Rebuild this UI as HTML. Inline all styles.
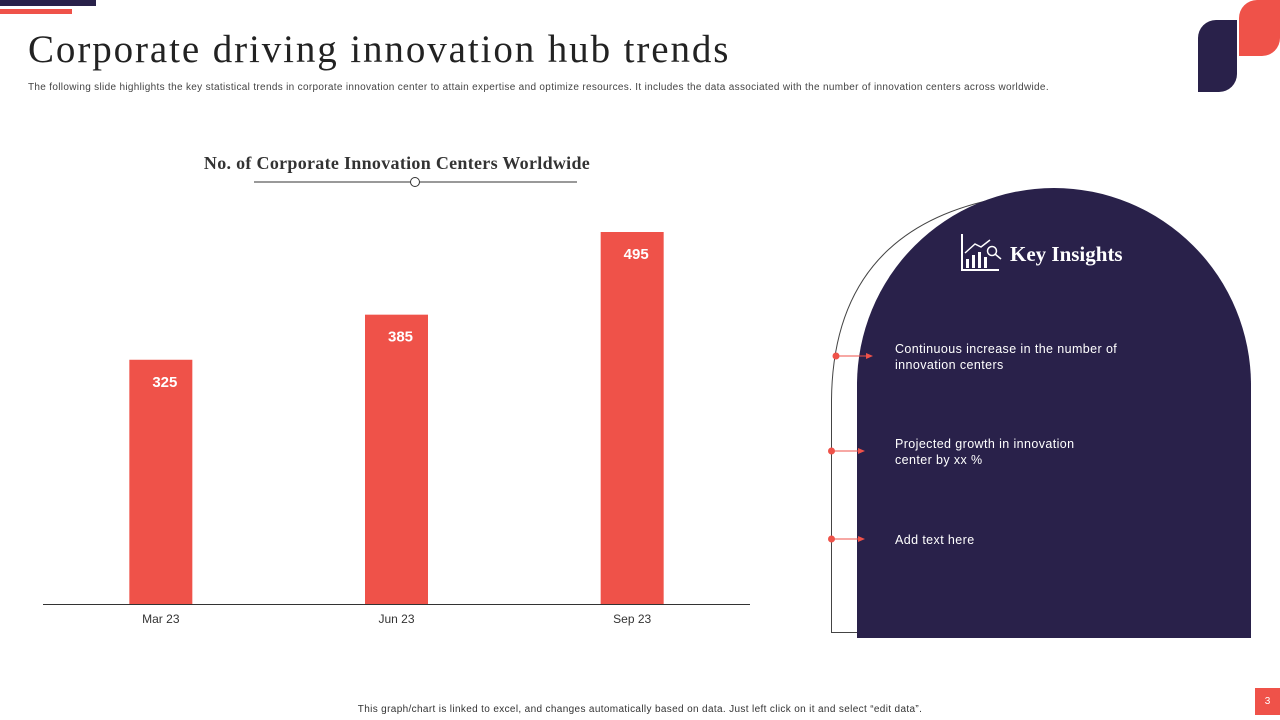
<!DOCTYPE html>
<html><head><meta charset="utf-8"><style>
body{margin:0;width:1280px;height:720px;overflow:hidden;background:#fff;font-family:"Liberation Sans",sans-serif;position:relative}
.a{position:absolute}
</style></head><body>
<div class="a" style="left:0;top:0;width:96px;height:6px;background:#29214a"></div>
<div class="a" style="left:0;top:9px;width:72px;height:5px;background:#ef5249"></div>
<div class="a" style="left:1198px;top:20px;width:39px;height:72px;background:#29214a;border-radius:18px 0 18px 0"></div>
<div class="a" style="left:1239px;top:0;width:41px;height:56px;background:#ef5249;border-radius:18px 0 18px 0"></div>
<div class="a" style="left:28px;top:27px;font-family:'Liberation Serif',serif;font-size:39px;letter-spacing:1.9px;color:#222">Corporate driving innovation hub trends</div>
<div class="a" style="left:28px;top:82px;font-size:10px;letter-spacing:0.32px;color:#444;white-space:nowrap">The following slide highlights the key statistical trends in corporate innovation center to attain expertise and optimize resources. It includes the data associated with the number of innovation centers across worldwide.</div>
<svg class="a" style="left:0;top:0" width="1280" height="720">
<text x="397" y="169" text-anchor="middle" font-family="Liberation Serif,serif" font-weight="bold" font-size="18" letter-spacing="0.3" fill="#333">No. of Corporate Innovation Centers Worldwide</text>
<line x1="254" y1="182" x2="577" y2="182" stroke="#333" stroke-width="1"/>
<circle cx="415" cy="182" r="4.5" fill="#fff" stroke="#333"/>
<g id="bars"></g>
<line x1="43" y1="604.5" x2="750" y2="604.5" stroke="#333" stroke-width="1"/>
<path d="M857 632.5 H831.5 V400 Q833 230 1000 198" fill="none" stroke="#444" stroke-width="1"/>
<path d="M857 638 V385 A197 197 0 0 1 1251 385 V638 Z" fill="#29214a"/>
<g stroke="#fff" fill="none" stroke-width="2">
<polyline points="962,234 962,270 999,270"/>
<rect x="966" y="259" width="3" height="9" fill="#fff" stroke="none"/>
<rect x="972" y="255" width="3" height="13" fill="#fff" stroke="none"/>
<rect x="978" y="252" width="3" height="16" fill="#fff" stroke="none"/>
<rect x="984" y="257" width="3" height="11" fill="#fff" stroke="none"/>
<polyline points="965,253 975,244 981,247 990,240" stroke-width="1.5"/>
<circle cx="992" cy="251" r="4.5" stroke-width="1.5"/>
<line x1="995" y1="254" x2="1001" y2="259" stroke-width="1.5"/>
</g>
<text x="1010" y="261" font-family="Liberation Serif,serif" font-weight="bold" font-size="21" fill="#fff">Key Insights</text>
<g><circle cx="836" cy="356" r="3.5" fill="#ef5249"/><line x1="836" y1="356" x2="870" y2="356" stroke="#ef5249"/><polygon points="866,353 873,356 866,359" fill="#ef5249"/></g>
<g><circle cx="831.5" cy="451" r="3.5" fill="#ef5249"/><line x1="831" y1="451" x2="862" y2="451" stroke="#ef5249"/><polygon points="858,448 865,451 858,454" fill="#ef5249"/></g>
<g><circle cx="831.5" cy="539" r="3.5" fill="#ef5249"/><line x1="831" y1="539" x2="862" y2="539" stroke="#ef5249"/><polygon points="858,536 865,539 858,542" fill="#ef5249"/></g>
</svg>
<div class="a" style="left:895px;top:341px;font-size:12.5px;letter-spacing:0.4px;line-height:16px;color:#fff">Continuous increase in the number of<br>innovation centers</div>
<div class="a" style="left:895px;top:436px;font-size:12.5px;letter-spacing:0.4px;line-height:16px;color:#fff">Projected growth in innovation<br>center by xx %</div>
<div class="a" style="left:895px;top:532px;font-size:12.5px;letter-spacing:0.4px;line-height:16px;color:#fff">Add text here</div>
<div class="a" style="left:0;width:1280px;text-align:center;top:704px;font-size:10px;letter-spacing:0.35px;color:#333">This graph/chart is linked to excel, and changes automatically based on data. Just left click on it and select “edit data”.</div>
<div class="a" style="left:1255px;top:688px;width:25px;height:27px;background:#ef5249;color:#fff;font-size:10px;text-align:center;line-height:27px">3</div>
<script>
const categories=["Mar 23","Jun 23","Sep 23"];
const values=[325,385,495];
const plotLeft=43,plotRight=750,baseY=604,pxPerUnit=372/495,barW=63;
const g=document.getElementById('bars');
const ns="http://www.w3.org/2000/svg";
const band=(plotRight-plotLeft)/categories.length;
function xC(i){return plotLeft+band*(i+0.5);}
function yV(v){return baseY-v*pxPerUnit;}
categories.forEach((c,i)=>{
  const r=document.createElementNS(ns,'rect');
  r.setAttribute('x',xC(i)-barW/2);r.setAttribute('y',yV(values[i]));
  r.setAttribute('width',barW);r.setAttribute('height',baseY-yV(values[i]));
  r.setAttribute('fill','#ef5249');
  
  
  g.appendChild(r);
  const t=document.createElementNS(ns,'text');
  t.setAttribute('x',xC(i)+4);t.setAttribute('y',yV(values[i])+27);
  t.setAttribute('text-anchor','middle');t.setAttribute('fill','#fff');
  t.setAttribute('font-weight','bold');t.setAttribute('font-size','15');
  t.textContent=values[i];
  
  
  g.appendChild(t);
  const l=document.createElementNS(ns,'text');
  l.setAttribute('x',xC(i));l.setAttribute('y',623);
  l.setAttribute('text-anchor','middle');l.setAttribute('fill','#333');l.setAttribute('font-size','12');
  l.textContent=c;
  
  
  g.appendChild(l);
});
</script>
</body></html>
